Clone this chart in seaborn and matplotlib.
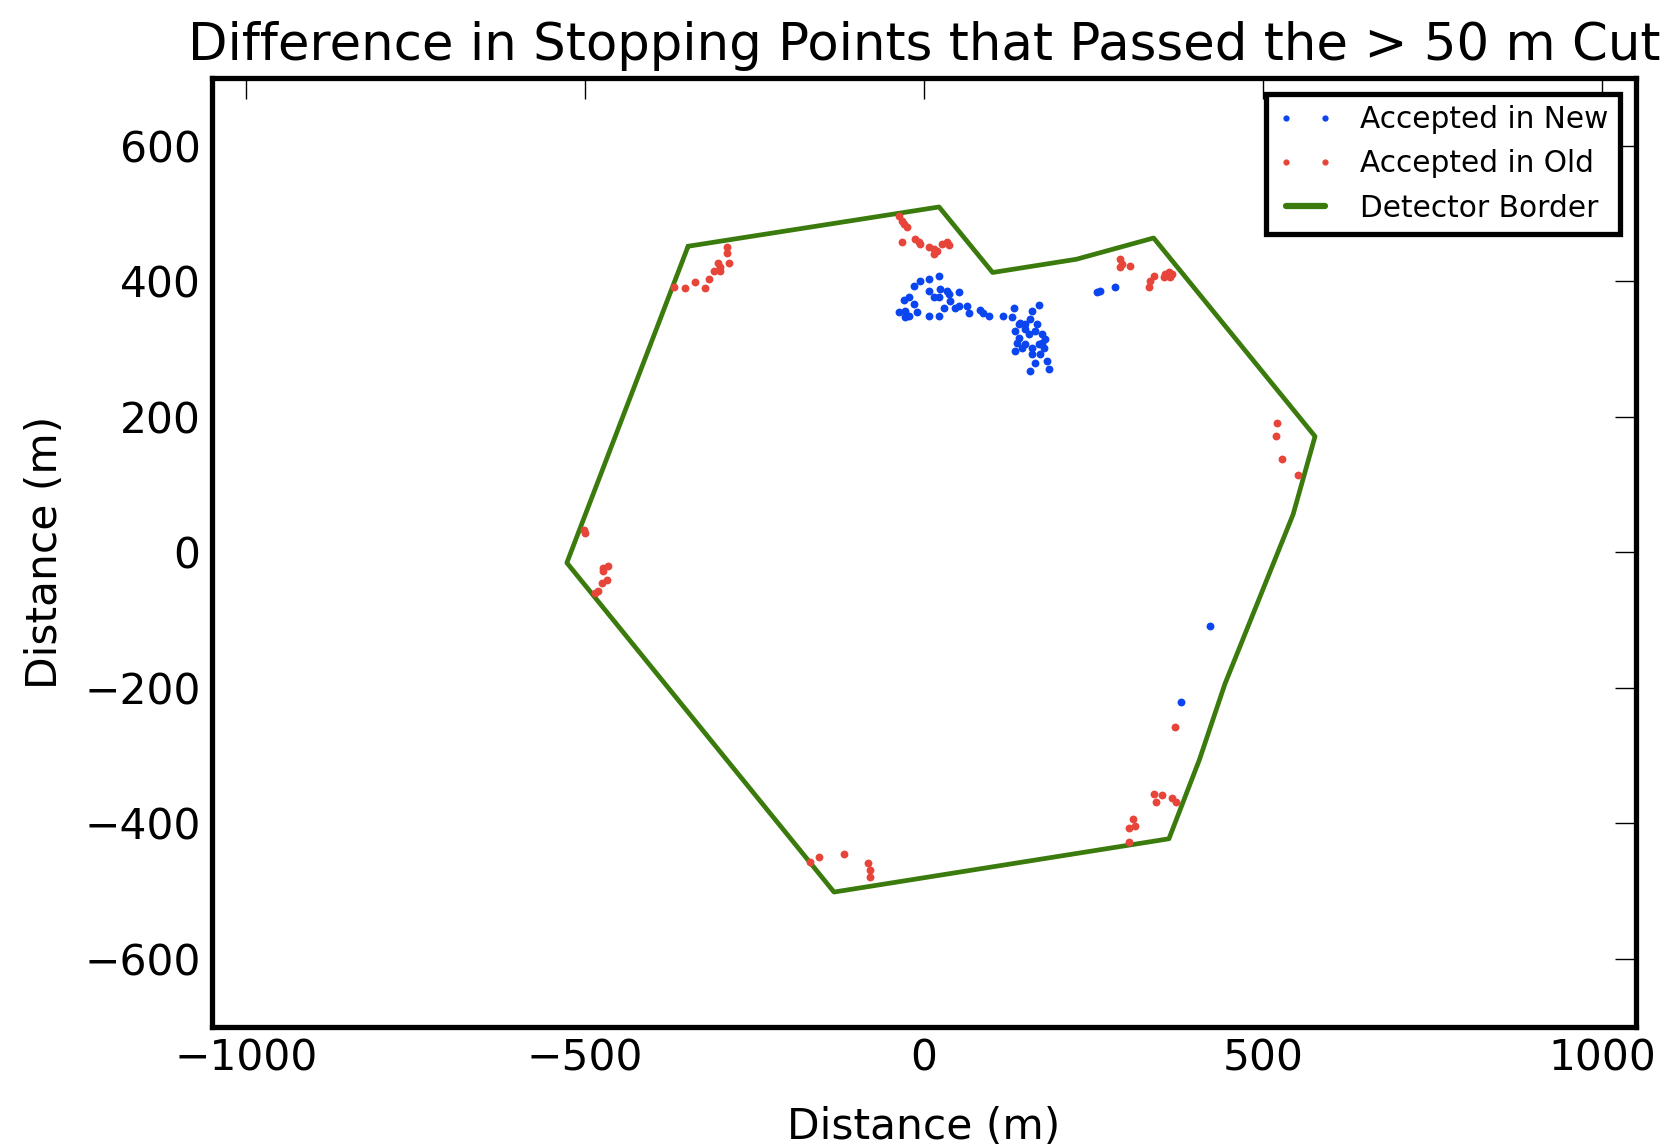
import matplotlib
matplotlib.use("Agg")
import matplotlib.pyplot as plt
from matplotlib.lines import Line2D
import seaborn as sns
import pandas as pd

# Stopping points accepted only by the new selection (x, y in metres)
new_x = [21.4, 6.6, -5.7, -15.5, -22.9, -30.2, -37.6, -27.8, -22.9, -27.8, -10.6, -15.5,
         6.6, 14.0, 21.4, 23.8, 33.7, 36.1, 38.6, 28.8, 50.9, 46.0, 50.9, 63.2, 65.6,
         6.6, 21.4, 82.8, 86.3, 95.1, 115.8, 129.6, 132.0, 159.0, 168.9, 156.6, 141.9,
         134.5, 139.4, 149.2, 154.1, 164.0, 173.8, 178.7, 168.9, 159.0, 149.2, 136.9,
         134.5, 144.3, 176.3, 171.4, 159.0, 163.9, 156.6, 181.2, 183.6, 139.4, 149.2,
         166.4, 173.8, 254.9, 259.9, 282.0, 422.1, 379.3]
new_y = [406.9, 403.0, 399.6, 393.2, 376.9, 372.0, 355.2, 356.2, 348.8, 346.4, 355.2, 366.0,
         384.8, 376.9, 375.9, 388.2, 385.7, 380.8, 371.0, 360.1, 384.3, 361.1, 363.6, 363.6, 353.7,
         348.8, 348.8, 357.2, 352.3, 348.8, 348.8, 346.4, 361.1, 356.2, 365.1, 343.9, 338.9,
         326.6, 316.8, 329.1, 321.7, 326.6, 321.7, 314.3, 306.9, 302.0, 306.9, 309.4,
         297.1, 302.0, 302.0, 292.1, 292.1, 279.8, 267.5, 282.3, 270.0, 336.5, 336.5,
         336.5, 309.4, 384.7, 385.7, 390.7, -109.4, -221.2]

# Stopping points accepted only by the old selection
old_x = [-37.6, -32.7, -30.2, -25.3, -32.7, -13.0, -8.1, -5.7, 6.6, 14.0, 14.0, 18.9, 26.3, 33.7, 36.1,
         289.3, 291.8, 289.3, 304.0, 338.4, 333.5, 331.1, 355.6, 360.5, 363.0, 353.2, 365.4,
         -290.8, -289.8, -288.3, -304.1, -300.6, -309.0, -300.6, -317.8, -337.5, -322.7, -352.2, -369.4,
         -500.7, -499.7, -472.7, -465.3, -472.7, -467.8, -475.1, -480.0, -485.0,
         370.5, 338.5, 350.8, 341.9, 365.5, 371.3, 308.0, 311.5, 302.6, 302.6,
         -167.8, -155.6, -118.7, -82.8, -79.4, -80.4,
         520.4, 519.0, 527.8, 551.4]
old_y = [496.6, 489.2, 484.3, 480.3, 458.2, 462.1, 457.2, 454.7, 449.8, 447.3, 440.0, 444.9, 454.7, 457.2, 453.2,
         432.6, 425.2, 420.3, 422.8, 408.0, 400.6, 390.7, 410.5, 413.0, 405.6, 405.6, 410.5,
         449.8, 441.4, 426.2, 426.2, 421.2, 414.3, 414.3, 403.0, 398.1, 389.7, 389.7, 391.7,
         33.5, 28.6, -23.1, -20.7, -28.1, -40.4, -45.3, -57.6, -60.1,
         -257.2, -357.2, -358.2, -368.0, -362.1, -368.0, -394.1, -403.5, -407.4, -427.1,
         -457.7, -449.3, -445.9, -458.2, -469.0, -478.8,
         191.1, 171.5, 136.9, 114.7]

# Outer detector border (closed polygon)
border_x = [-347.88, 22.11, 101.04, 224.58, 338.44, 576.37, 544.07, 443.60, 405.83, 361.00,
            -132.80, -526.63, -347.88]
border_y = [451.52, 509.50, 412.79, 432.35, 463.72, 170.92, 55.89, -194.16, -306.38, -422.83,
            -501.45, -15.60, 451.52]

labels = ["Accepted in New", "Accepted in Old", "Detector Border"]
x_ticks = [-1000, -500, 0, 500, 1000]
y_ticks = [-600, -400, -200, 0, 200, 400, 600]

BLUE = "#0a45f0"
RED = "#e8453a"
GREEN = "#3b7a0c"

sns.set_style("white", {"text.color": "black", "axes.labelcolor": "black",
                        "xtick.color": "black", "ytick.color": "black",
                        "axes.edgecolor": "black"})
plt.rcParams["font.family"] = ["DejaVu Sans"]
plt.rcParams["axes.unicode_minus"] = True

fig = plt.figure(figsize=(16.68, 11.45), dpi=100)
ax = fig.add_axes([0.127, 0.1034, 0.854, 0.8286])

new_df = pd.DataFrame({"x": new_x, "y": new_y})
old_df = pd.DataFrame({"x": old_x, "y": old_y})
border_df = pd.DataFrame({"x": border_x, "y": border_y})

sns.lineplot(data=border_df, x="x", y="y", sort=False, estimator=None,
             color=GREEN, linewidth=3.4, ax=ax, zorder=1)
sns.scatterplot(data=new_df, x="x", y="y", color=BLUE, s=32, linewidth=0, ax=ax, zorder=3)
sns.scatterplot(data=old_df, x="x", y="y", color=RED, s=32, linewidth=0, ax=ax, zorder=3)

ax.set_xlim(-1050, 1050)
ax.set_ylim(-700, 700)
ax.set_xticks(x_ticks)
ax.set_yticks(y_ticks)
ax.tick_params(direction="in", length=15, width=1, top=True, right=True,
               labelsize=30.5, pad=8, colors="black")
for sp in ax.spines.values():
    sp.set_linewidth(3.8)
    sp.set_color("black")

ax.set_xlabel("Distance (m)", fontsize=30.5, labelpad=19, color="black")
ax.set_ylabel("Distance (m)", fontsize=30.5, labelpad=13, color="black")
ax.set_title("Difference in Stopping Points that Passed the > 50 m Cut",
             fontsize=37, pad=13, color="black")

handles = [
    Line2D([], [], linestyle="none", marker="o", markersize=4.5, color=BLUE, markeredgewidth=0),
    Line2D([], [], linestyle="none", marker="o", markersize=4.5, color=RED, markeredgewidth=0),
    Line2D([], [], color=GREEN, linewidth=4.5),
]
leg = ax.legend(handles, labels, loc="upper right", fontsize=21.3, numpoints=2,
                frameon=True, fancybox=False, framealpha=1.0, borderpad=0.38,
                labelspacing=0.51, handlelength=1.9, handletextpad=0.9,
                borderaxespad=0.55)
leg.get_frame().set_edgecolor("black")
leg.get_frame().set_linewidth(3.8)
for t in leg.get_texts():
    t.set_color("black")

fig.savefig("out.png", dpi=100)
